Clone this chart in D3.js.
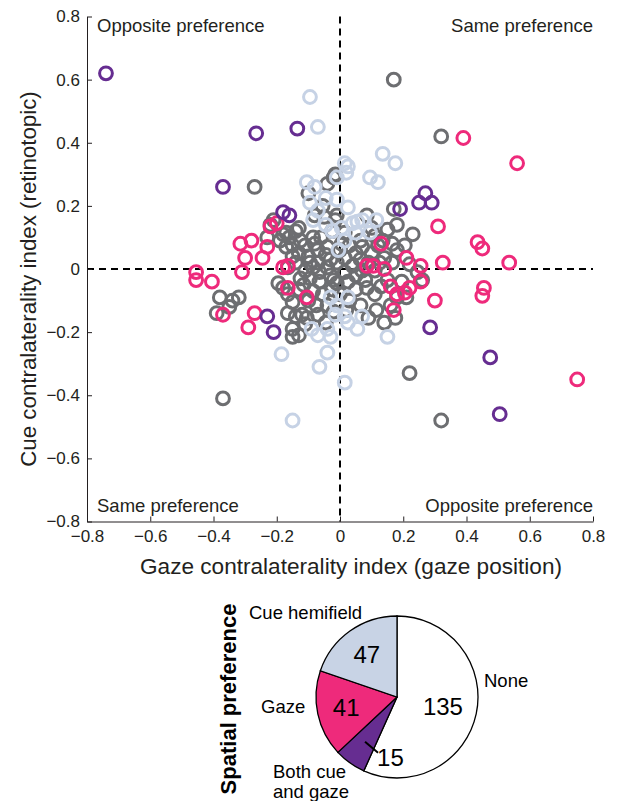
<!DOCTYPE html>
<html><head><meta charset="utf-8">
<script src="https://cdn.jsdelivr.net/npm/d3@7"></script>
<style>
body{margin:0;background:#fff;}
svg{display:block;font-family:"Liberation Sans",Arial,sans-serif;}
</style></head>
<body><svg id="c" width="620" height="801"></svg>
<script>
// ---- data: [gaze index, cue index] ----
const nonePoints = [
[0.17,0.60],[0.32,0.42],[-0.27,0.26],[-0.37,-0.41],[0.22,-0.33],[0.32,-0.48],
[-0.38,-0.09],[-0.34,-0.10],[-0.32,-0.09],[-0.39,-0.14],[-0.35,-0.12],
[-0.21,0.155],[-0.22,0.14],[-0.18,0.11],[-0.16,0.10],[-0.14,0.12],[-0.13,0.13],[-0.085,0.10],[-0.06,0.10],
[-0.13,0.05],[-0.10,0.04],[-0.07,0.06],[-0.04,0.07],[-0.025,0.12],[-0.04,0.27],[-0.10,0.24],[-0.02,0.29],
[-0.05,0.165],[-0.01,0.17],[-0.15,0.04],[-0.14,0.02],[-0.095,0.02],[-0.07,0.02],[-0.03,0.03],[-0.01,0.02],
[-0.19,0.09],[-0.17,0.115],[-0.17,0.07],
[-0.015,0.30],[0.085,0.17],[0.17,0.19],[0.18,0.14],[0.23,0.11],[0.10,0.13],[0.135,0.09],[0.165,0.08],
[0.18,0.06],[0.07,0.07],[0.05,0.05],[0.10,0.05],[0.005,0.08],[0.015,0.035],[0.065,0.03],[0.09,0.02],[-0.015,0.155],
[-0.18,-0.06],[-0.165,-0.08],[-0.15,-0.105],[-0.125,-0.03],[-0.095,-0.03],[-0.065,-0.04],[-0.165,-0.14],
[-0.14,-0.15],[-0.12,-0.145],[-0.15,-0.19],[-0.15,-0.215],[-0.13,-0.21],[-0.105,-0.155],[-0.085,-0.07],
[-0.055,-0.08],[-0.04,-0.115],[-0.02,-0.135],[-0.165,0.005],[-0.085,0.005],[-0.04,0.005],[-0.02,-0.035],
[-0.025,-0.065],[-0.195,-0.045],
[0.015,-0.01],[0.05,-0.02],[0.05,-0.065],[0.085,-0.06],[0.11,-0.08],[0.13,-0.055],[0.15,-0.035],[0.115,-0.13],
[0.14,-0.17],[0.18,-0.09],[0.21,-0.09],[0.245,-0.01],[0.26,-0.035],[0.07,-0.005],[-0.01,-0.045],
[-0.11,0.075],[-0.08,0.08],[-0.045,0.045],[0.0,0.06],[0.03,0.075],[0.04,0.01],[0.065,0.09],[0.12,0.075],
[0.14,0.035],[0.165,0.02],[0.205,0.075],[0.22,0.015],[-0.125,0.09],[-0.15,0.075],[-0.11,-0.005],[-0.065,-0.01],
[-0.03,-0.02],[0.0,-0.08],[0.03,-0.10],[0.065,-0.115],[0.09,-0.155],[0.02,-0.13],[-0.075,-0.115],[-0.10,-0.10],
[-0.13,-0.065],[-0.115,-0.05],[-0.07,-0.145],[-0.045,-0.17],[-0.11,-0.175],[0.16,-0.115],[0.175,-0.155],
[0.195,-0.04],[0.11,-0.005],[0.125,0.02],[0.08,-0.035],[0.025,-0.04],[-0.055,0.20],[-0.08,0.17],[0.015,0.115],
[0.11,0.105],[0.15,0.125],[-0.23,0.10]
];
const cuePoints = [
[-0.095,0.545],[-0.07,0.45],[0.135,0.365],[0.175,0.335],[0.095,0.29],[0.12,0.275],[0.025,0.325],[0.02,0.305],
[-0.105,0.275],[-0.08,0.26],[-0.045,0.225],[-0.01,0.29],[-0.01,0.22],[-0.07,0.185],[-0.085,0.155],[-0.045,0.14],
[-0.025,0.12],[-0.095,0.21],[0.025,0.195],[0.04,0.145],[0.055,0.15],[0.07,0.155],[0.115,0.155],[0.005,0.13],
[0.05,0.115],[0.015,0.09],[-0.185,-0.27],[-0.07,-0.21],[-0.04,-0.19],[-0.03,-0.215],[-0.04,-0.265],[-0.065,-0.31],
[-0.03,-0.09],[-0.01,-0.115],[0.025,-0.09],[0.025,-0.17],[0.07,-0.15],[0.055,-0.19],[0.15,-0.215],[0.015,-0.36],
[-0.15,-0.48],[0.015,0.335],[-0.005,0.06],[-0.015,-0.145],[0.015,-0.15],[-0.09,-0.19],[0.095,0.115]
];
const gazePoints = [
[0.39,0.415],[0.56,0.335],[0.31,0.135],[0.435,0.085],[0.45,0.065],[0.535,0.02],[0.325,0.02],[0.21,0.035],
[0.13,0.08],[0.255,0.01],[0.105,0.01],[0.14,0.0],[0.16,-0.055],[0.18,-0.08],[0.205,-0.075],[0.22,-0.06],
[0.255,-0.04],[0.30,-0.10],[0.17,-0.13],[0.455,-0.06],[0.45,-0.085],[0.75,-0.35],[-0.455,-0.01],[-0.455,-0.035],
[-0.405,-0.04],[-0.37,-0.145],[-0.27,-0.14],[-0.29,-0.185],[-0.31,-0.01],[-0.18,0.005],[-0.165,-0.06],
[-0.105,-0.09],[-0.315,0.08],[-0.28,0.09],[-0.23,0.07],[-0.30,0.035],[-0.245,0.035],[-0.22,0.135],[-0.20,0.145],
[-0.165,0.01],[0.085,0.01]
];
const bothPoints = [
[-0.74,0.62],[-0.265,0.43],[-0.135,0.445],[-0.37,0.26],[-0.18,0.18],[-0.16,0.17],[-0.23,-0.15],[-0.21,-0.20],
[0.19,0.19],[0.25,0.21],[0.27,0.24],[0.29,0.21],[0.285,-0.185],[0.475,-0.28],[0.505,-0.46]
];
const tickValues = [-0.8,-0.6,-0.4,-0.2,0,0.2,0.4,0.6,0.8];
const pieLabels = ["None","Both cue and gaze","Gaze","Cue hemifield"];
const pieCounts = [135,15,41,47];

const colors = {none:"#6d6e71", cue:"#c6d2e5", gaze:"#ee2a7b", both:"#662d91"};
const svg = d3.select("#c");
const x = d3.scaleLinear().domain([-0.8,0.8]).range([87,593]);
const y = d3.scaleLinear().domain([-0.8,0.8]).range([521.5,16.5]);
const fmt = d => d===0 ? "0" : d3.format(".1f")(d);
const textCol = "#231f20";

// dashed zero lines
svg.append("line").attr("x1",x(-0.8)).attr("x2",x(0.8)).attr("y1",y(0)).attr("y2",y(0))
  .attr("stroke","#000").attr("stroke-width",2).attr("stroke-dasharray","7,5");
svg.append("line").attr("x1",x(0)).attr("x2",x(0)).attr("y1",y(0.8)).attr("y2",y(-0.8))
  .attr("stroke","#000").attr("stroke-width",2).attr("stroke-dasharray","7,5");

// axes
const ax = svg.append("g").attr("transform",`translate(0,${y(-0.8)})`)
  .call(d3.axisBottom(x).tickValues(tickValues).tickFormat(fmt).tickSizeInner(-5).tickSizeOuter(0).tickPadding(8));
const ay = svg.append("g").attr("transform",`translate(${x(-0.8)},0)`)
  .call(d3.axisLeft(y).tickValues(tickValues).tickFormat(fmt).tickSizeInner(-5).tickSizeOuter(0).tickPadding(7));
[ax,ay].forEach(g=>{
  g.selectAll("text").attr("font-size",17).attr("fill",textCol).attr("font-family","Liberation Sans, Arial, sans-serif");
  g.selectAll("path,line").attr("stroke","#231f20").attr("stroke-width",1);
});

// points
function drawPts(data,col){
  svg.append("g").selectAll("circle").data(data).join("circle")
    .attr("cx",d=>x(d[0])).attr("cy",d=>y(d[1])).attr("r",6.4)
    .attr("fill","none").attr("stroke",col).attr("stroke-width",3);
}
drawPts(nonePoints,colors.none);
drawPts(cuePoints,colors.cue);
drawPts(gazePoints,colors.gaze);
drawPts(bothPoints,colors.both);

// quadrant labels
const q = [
  {t:"Opposite preference", x:x(-0.8)+10, y:y(0.8)+15, a:"start"},
  {t:"Same preference", x:x(0.8), y:y(0.8)+15, a:"end"},
  {t:"Same preference", x:x(-0.8)+10, y:y(-0.8)-10, a:"start"},
  {t:"Opposite preference", x:x(0.8), y:y(-0.8)-10, a:"end"}
];
svg.append("g").selectAll("text").data(q).join("text")
  .attr("x",d=>d.x).attr("y",d=>d.y).attr("text-anchor",d=>d.a)
  .attr("font-size",18.5).attr("fill",textCol).text(d=>d.t);

// axis titles
svg.append("text").attr("x",(x(-0.8)+x(0.8))/2+11).attr("y",574).attr("text-anchor","middle")
  .attr("font-size",22.6).attr("fill",textCol).text("Gaze contralaterality index (gaze position)");
svg.append("text").attr("transform",`translate(36,${(y(0.8)+y(-0.8))/2+10}) rotate(-90)`).attr("text-anchor","middle")
  .attr("font-size",22.3).attr("fill",textCol).text("Cue contralaterality index (retinotopic)");

// pie
const pcx = 397, pcy = 697, R = 81;
const pieCols = ["#ffffff", colors.both, colors.gaze, "#c8d3e5"];
const arcs = d3.pie().sort(null).value(d=>d)(pieCounts);
const arc = d3.arc().innerRadius(0).outerRadius(R);
const pg = svg.append("g").attr("transform",`translate(${pcx},${pcy})`);
pg.selectAll("path").data(arcs).join("path").attr("d",arc)
  .attr("fill",(d,i)=>pieCols[i]).attr("stroke","#000").attr("stroke-width",1.3);
const labR = [47,0,52,52];
[0,2,3].forEach(i=>{
  const c = d3.arc().innerRadius(labR[i]).outerRadius(labR[i]).centroid(arcs[i]);
  pg.append("text").attr("x",c[0]).attr("y",c[1]).attr("dy","0.35em").attr("text-anchor","middle")
    .attr("font-size",24).attr("fill","#000").text(pieCounts[i]);
});
const lc = d3.arc().innerRadius(55).outerRadius(55).centroid(arcs[1]);
pg.append("line").attr("x1",lc[0]).attr("y1",lc[1]).attr("x2",lc[0]+13).attr("y2",lc[1]+11)
  .attr("stroke","#000").attr("stroke-width",2);
pg.append("text").attr("x",lc[0]+12).attr("y",lc[1]+24).attr("font-size",24).attr("fill","#000").text(pieCounts[1]);

// category labels
const lab = svg.append("g").attr("font-size",18.5).attr("fill","#000");
lab.append("text").attr("x",pcx+R+6).attr("y",pcy-10).text(pieLabels[0]);
lab.append("text").attr("x",pcx-148).attr("y",pcy-78).text(pieLabels[3]);
lab.append("text").attr("x",pcx-136).attr("y",pcy+16).text(pieLabels[2]);
const both = lab.append("text").attr("x",pcx-124).attr("y",pcy+81);
both.append("tspan").attr("x",pcx-124).text("Both cue");
both.append("tspan").attr("x",pcx-124).attr("dy",20).text("and gaze");

svg.append("text").attr("transform",`translate(236,${pcy+2}) rotate(-90)`).attr("text-anchor","middle")
  .attr("font-size",22).attr("font-weight","bold").attr("fill","#000").text("Spatial preference");
</script></body></html>
